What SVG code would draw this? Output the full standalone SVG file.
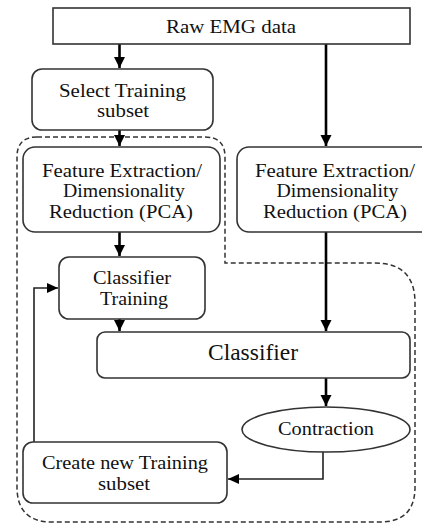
<svg xmlns="http://www.w3.org/2000/svg" width="422" height="524" viewBox="0 0 422 524">
<style>
.box{fill:#fff;stroke:#333;stroke-width:1.6}
.t{font-family:'Liberation Serif','Times New Roman',serif;font-size:18.5px;fill:#111;text-anchor:middle}
.big{font-size:22.5px}
.thick{fill:none;stroke:#000;stroke-width:2.6}
.thin{fill:none;stroke:#222;stroke-width:1.6}
.dash{fill:none;stroke:#333;stroke-width:1.5;stroke-dasharray:5 3}
</style>
<defs>
<marker id="ah" markerUnits="userSpaceOnUse" markerWidth="12" markerHeight="12" viewBox="0 0 12 12" refX="11" refY="6" orient="auto">
<path d="M0,0.5 L11,6 L0,11.5 Z" fill="#000"/>
</marker>
<marker id="ahs" markerUnits="userSpaceOnUse" markerWidth="12" markerHeight="12" viewBox="0 0 12 12" refX="11" refY="6" orient="auto">
<path d="M0,1 L11,6 L0,11 Z" fill="#000"/>
</marker>
</defs>
<rect width="422" height="524" fill="#fff"/>
<path class="dash" d="M37,137 H205 Q225,137 225,157 V263 H375 Q415,263 415,303 V487 Q415,522 380,522 H52 Q17,522 17,487 V157 Q17,137 37,137 Z"/>
<g id="connectors">
<line class="thick" x1="119.5" y1="44" x2="119.5" y2="68" marker-end="url(#ah)"/>
<line class="thick" x1="326" y1="44" x2="326" y2="146" marker-end="url(#ah)"/>
<line class="thick" x1="119.5" y1="130" x2="119.5" y2="146" marker-end="url(#ah)"/>
<line class="thick" x1="119.5" y1="232" x2="119.5" y2="256" marker-end="url(#ah)"/>
<line class="thick" x1="119.5" y1="319" x2="119.5" y2="331" marker-end="url(#ah)"/>
<line class="thick" x1="326" y1="232" x2="326" y2="331" marker-end="url(#ah)"/>
<line class="thick" x1="326" y1="378" x2="326" y2="406" marker-end="url(#ah)"/>
<path class="thin" d="M323,452 V479 H228" marker-end="url(#ahs)"/>
<path class="thin" d="M34,442 V288 H58" marker-end="url(#ahs)"/>
</g>
<g id="raw">
<rect class="box" x="53" y="8" width="357" height="36"/>
<text class="t" x="231" y="33" textLength="130" lengthAdjust="spacingAndGlyphs">Raw EMG data</text>
</g>
<g id="select">
<rect class="box" x="32" y="69" width="181" height="61" rx="10"/>
<text class="t" x="122.5" y="97" textLength="127" lengthAdjust="spacingAndGlyphs">Select Training</text>
<text class="t" x="123" y="117" textLength="52" lengthAdjust="spacingAndGlyphs">subset</text>
</g>
<g id="feature-left">
<rect class="box" x="23" y="147" width="197" height="85" rx="12"/>
<text class="t" x="122" y="177" textLength="160" lengthAdjust="spacingAndGlyphs">Feature Extraction/</text>
<text class="t" x="124" y="197" textLength="122" lengthAdjust="spacingAndGlyphs">Dimensionality</text>
<text class="t" x="121" y="218" textLength="144" lengthAdjust="spacingAndGlyphs">Reduction (PCA)</text>
</g>
<g id="feature-right">
<rect class="box" x="237" y="147" width="200" height="85" rx="12"/>
<text class="t" x="335" y="177" textLength="160" lengthAdjust="spacingAndGlyphs">Feature Extraction/</text>
<text class="t" x="337.5" y="197" textLength="122" lengthAdjust="spacingAndGlyphs">Dimensionality</text>
<text class="t" x="335" y="218" textLength="144" lengthAdjust="spacingAndGlyphs">Reduction (PCA)</text>
</g>
<g id="classifier-training">
<rect class="box" x="59" y="257" width="146" height="62" rx="10"/>
<text class="t" x="132" y="284" textLength="78" lengthAdjust="spacingAndGlyphs">Classifier</text>
<text class="t" x="134" y="305" textLength="68" lengthAdjust="spacingAndGlyphs">Training</text>
</g>
<g id="classifier">
<rect class="box" x="97" y="332" width="313" height="46" rx="8"/>
<text class="t big" x="253" y="360" textLength="90" lengthAdjust="spacingAndGlyphs">Classifier</text>
</g>
<g id="contraction">
<ellipse class="box" cx="326" cy="429.5" rx="84" ry="22.5"/>
<text class="t" x="326" y="435" textLength="96" lengthAdjust="spacingAndGlyphs">Contraction</text>
</g>
<g id="create">
<rect class="box" x="23" y="442" width="204" height="61" rx="10"/>
<text class="t" x="125" y="469" textLength="166" lengthAdjust="spacingAndGlyphs">Create new Training</text>
<text class="t" x="124" y="490" textLength="52" lengthAdjust="spacingAndGlyphs">subset</text>
</g>
</svg>
